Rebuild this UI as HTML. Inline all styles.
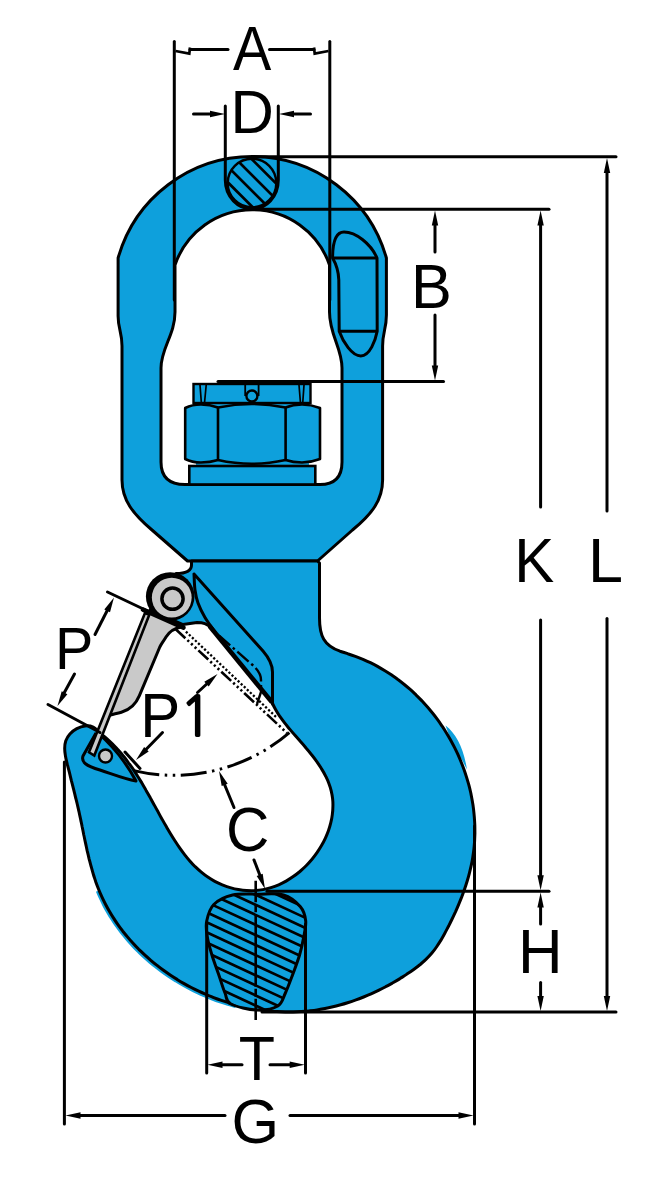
<!DOCTYPE html>
<html><head><meta charset="utf-8"><title>Swivel hook dimensions</title>
<style>html,body{margin:0;padding:0;background:#fff}svg{display:block}</style></head>
<body>
<svg width="664" height="1184" viewBox="0 0 664 1184">
<rect width="664" height="1184" fill="#fff"/>
<path d="M118.1,258 A139.4,139.4 0 0 1 386.4,258 L386.4,315 C386.4,329 382.6,332 382.6,346 L382.6,480 C382.6,500 372,514 352.5,530 L317.5,561 L187.5,561 L152,530 C133,514 122,500 122,480 L122,346 C122,332 118.1,329 118.1,316 Z M175,265 A81.6,81.6 0 0 1 329.5,265 L329.5,312 C329.5,335 342,348 342,368 L342,462 C342,477 335,484.5 320,484.5 L185,484.5 C169,484.5 161,477 161,462 L161,368 C161,348 175,335 175,312 Z" fill="#0ea0dc" fill-rule="evenodd" stroke="#000" stroke-width="3.0" stroke-linejoin="round"/>
<path d="M332.6,258 C332.6,243 335,232 344,232 C356,232 371,244 377,258 L377.2,331.3 C375.5,340 370,356 360.8,356 C352,356 343,342 339.2,331.3 L338.8,280 C338.5,270 335.5,263 332.6,258 Z" fill="none" stroke="#000" stroke-width="3.0" stroke-linejoin="round"/>
<path d="M332.6,258 H377 M339.2,331.3 H377.2" fill="none" stroke="#000" stroke-width="3.0"/>
<rect x="196" y="400" width="113" height="68" fill="#0ea0dc"/>
<rect x="189.3" y="466" width="126" height="18.5" fill="#0ea0dc" stroke="#000" stroke-width="2.6"/>
<rect x="193.5" y="384" width="117" height="19" fill="#0ea0dc" stroke="#000" stroke-width="2.4"/>
<path d="M185.2,408 Q192,404.5 201,404.5 Q210,404.5 218,407.5 Q235,404 251.8,404 Q268,404 285.6,407.5 Q293,404.5 302,404.5 Q311,404.5 320,408 V459 Q311,462.5 302,462.5 Q293,462.5 285.6,460 Q268,463.8 251.8,463.8 Q235,463.8 218,460 Q210,462.5 201,462.5 Q192,462.5 185.2,459 Z" fill="#0ea0dc" stroke="#000" stroke-width="2.6" stroke-linejoin="round"/>
<path d="M218,407.5 V460 M285.6,407.5 V460" fill="none" stroke="#000" stroke-width="2.6"/>
<path d="M200,385 L201.3,402 M206.2,385 L204.6,402 M299,385 L300.4,402 M304,385 L302.8,402" fill="none" stroke="#000" stroke-width="1.7"/>
<circle cx="251.9" cy="396" r="5.5" fill="#0ea0dc" stroke="#000" stroke-width="2.4"/>
<path d="M245.2,385 V396 M258.6,385 V396" stroke="#000" stroke-width="1.8"/>
<path d="M235.7,1006.5 C234.4,1006.1 230.5,1005.0 227.9,1004.2 C225.3,1003.4 222.7,1002.6 220.1,1001.7 C217.5,1000.8 215.0,999.9 212.4,998.9 C209.9,997.9 207.3,996.9 204.8,995.8 C202.3,994.7 199.8,993.6 197.4,992.5 C194.9,991.3 192.5,990.1 190.0,988.8 C187.6,987.6 185.2,986.3 182.8,984.9 C180.5,983.6 178.1,982.2 175.8,980.7 C173.5,979.3 171.2,977.8 168.9,976.3 C166.7,974.8 164.4,973.2 162.2,971.6 C160.1,970.1 157.9,968.4 155.8,966.7 C153.6,965.1 151.5,963.3 149.5,961.6 C147.4,959.8 145.4,958.0 143.4,956.2 C141.4,954.4 139.5,952.5 137.5,950.6 C135.6,948.7 133.8,946.8 132.0,944.8 C130.1,942.8 128.3,940.8 126.6,938.7 C124.9,936.7 123.2,934.6 121.5,932.5 C119.9,930.4 118.3,928.2 116.8,926.1 C115.2,923.9 113.7,921.7 112.3,919.4 C110.8,917.2 109.4,914.9 108.1,912.6 C106.7,910.3 105.4,907.9 104.2,905.6 C103.0,903.2 101.8,900.8 100.7,898.4 C99.6,895.9 98.0,892.2 97.5,891.0" fill="none" stroke="#0ea0dc" stroke-width="3.4"/>
<path d="M445.5,725.5 C456.5,734 463.5,748 467,769.5 L462,760 L450,738 Z" fill="#0ea0dc"/>
<path d="M191.5,561 H317.5 L319.5,563 L319.5,618 C319.5,636 324,645.5 340,651.2 C341.3,651.6 345.1,652.8 347.7,653.7 C350.3,654.5 352.9,655.4 355.4,656.3 C358.0,657.3 360.5,658.3 363.0,659.3 C365.5,660.4 367.9,661.5 370.4,662.7 C372.8,663.9 375.2,665.1 377.5,666.4 C379.9,667.7 382.2,669.1 384.5,670.5 C386.8,671.9 389.1,673.3 391.3,674.8 C393.6,676.4 395.8,677.9 397.9,679.5 C400.1,681.1 402.2,682.8 404.3,684.5 C406.4,686.2 408.4,687.9 410.5,689.7 C412.5,691.5 414.4,693.4 416.4,695.3 C418.3,697.1 420.2,699.1 422.1,701.0 C423.9,703.0 425.7,705.0 427.5,707.0 C429.3,709.1 431.0,711.2 432.7,713.3 C434.4,715.4 436.0,717.5 437.6,719.7 C439.2,721.9 440.7,724.1 442.3,726.4 C443.8,728.6 445.2,730.9 446.6,733.2 C448.0,735.5 449.4,737.9 450.7,740.2 C452.0,742.6 453.3,745.0 454.5,747.4 C455.7,749.8 456.9,752.2 458.0,754.7 C459.1,757.2 460.2,759.7 461.2,762.2 C462.2,764.7 463.2,767.2 464.1,769.7 C465.0,772.3 465.8,774.8 466.6,777.4 C467.4,780.0 468.2,782.6 468.9,785.2 C469.6,787.8 470.2,790.4 470.8,793.0 C471.3,795.7 471.8,798.3 472.3,801.0 C472.8,803.6 473.2,806.3 473.5,808.9 C473.8,811.6 474.1,814.3 474.3,816.9 C474.5,819.6 474.7,822.3 474.8,825.0 C474.9,827.7 474.9,830.4 474.9,833.1 C474.8,835.7 474.7,838.4 474.6,841.1 C474.4,843.8 474.2,846.5 473.9,849.2 C473.6,851.8 473.2,854.5 472.8,857.2 C472.4,859.8 471.9,862.5 471.3,865.2 C470.7,867.8 470.1,870.5 469.4,873.1 C468.8,875.7 468.0,878.4 467.2,881.0 C466.4,883.6 465.6,886.2 464.7,888.8 C463.8,891.4 462.9,893.9 461.9,896.5 C460.9,899.0 459.9,901.6 458.8,904.1 C457.8,906.6 456.7,909.1 455.6,911.6 C454.4,914.1 453.3,916.6 452.1,919.0 C450.9,921.5 449.7,923.9 448.5,926.3 C447.2,928.7 446.0,931.1 444.7,933.4 C443.4,935.8 442.1,938.1 440.8,940.4 C439.4,942.6 438.0,944.8 436.5,947.0 C435.0,949.2 433.4,951.3 431.7,953.3 C430.0,955.3 428.2,957.2 426.2,959.1 C424.3,961.0 422.3,962.7 420.2,964.5 C418.1,966.2 415.9,967.9 413.7,969.5 C411.5,971.1 409.2,972.6 406.9,974.1 C404.7,975.7 402.3,977.1 400.0,978.6 C397.7,980.0 395.3,981.4 392.9,982.8 C390.6,984.1 388.2,985.5 385.7,986.7 C383.3,988.0 380.9,989.2 378.5,990.4 C376.0,991.6 373.5,992.8 371.1,993.9 C368.6,995.0 366.1,996.0 363.6,997.0 C361.1,998.0 358.6,999.0 356.0,999.9 C353.5,1000.8 350.9,1001.7 348.4,1002.5 C345.8,1003.3 343.2,1004.1 340.7,1004.8 C338.1,1005.5 335.5,1006.2 332.9,1006.8 C330.3,1007.4 327.6,1008.0 325.0,1008.5 C322.4,1009.0 319.8,1009.5 317.1,1009.9 C314.5,1010.3 311.8,1010.6 309.2,1010.9 C306.5,1011.2 303.9,1011.4 301.2,1011.6 C298.5,1011.8 295.8,1011.9 293.2,1011.9 C290.5,1012.0 287.8,1012.0 285.1,1011.9 C282.4,1011.9 279.7,1011.8 277.0,1011.6 C274.4,1011.5 271.7,1011.2 269.0,1011.0 C266.3,1010.7 263.6,1010.4 260.9,1010.0 C258.3,1009.6 255.6,1009.2 252.9,1008.7 C250.3,1008.2 247.6,1007.7 245.0,1007.1 C242.3,1006.5 239.7,1005.8 237.0,1005.2 C234.4,1004.5 231.8,1003.7 229.2,1002.9 C226.6,1002.1 224.0,1001.3 221.4,1000.4 C218.8,999.5 216.3,998.6 213.7,997.6 C211.2,996.6 208.6,995.6 206.1,994.5 C203.6,993.4 201.1,992.3 198.7,991.2 C196.2,990.0 193.8,988.8 191.3,987.5 C188.9,986.3 186.5,985.0 184.1,983.6 C181.8,982.3 179.4,980.9 177.1,979.4 C174.8,978.0 172.5,976.5 170.2,975.0 C168.0,973.5 165.7,971.9 163.5,970.3 C161.4,968.8 159.2,967.1 157.1,965.4 C154.9,963.8 152.8,962.0 150.8,960.3 C148.7,958.5 146.7,956.7 144.7,954.9 C142.7,953.1 140.8,951.2 138.8,949.3 C136.9,947.4 135.1,945.5 133.3,943.5 C131.4,941.5 129.6,939.5 127.9,937.4 C126.2,935.4 124.5,933.3 122.8,931.2 C121.2,929.1 119.6,926.9 118.1,924.8 C116.5,922.6 115.0,920.4 113.6,918.1 C112.1,915.9 110.7,913.6 109.4,911.3 C108.0,909.0 106.7,906.6 105.5,904.3 C104.3,901.9 103.1,899.5 102.0,897.1 C100.9,894.6 99.8,892.2 98.8,889.7 C97.8,887.2 96.8,884.7 95.9,882.2 C95.1,879.6 94.2,877.1 93.4,874.5 C92.6,871.9 91.9,869.3 91.2,866.7 C90.4,864.1 89.8,861.5 89.1,858.8 C88.5,856.2 87.9,853.6 87.2,850.9 C86.6,848.3 86.1,845.6 85.5,842.9 C84.9,840.3 84.4,837.6 83.8,835.0 C83.3,832.3 82.8,829.7 82.2,827.0 C81.7,824.4 81.1,821.7 80.6,819.1 C80.0,816.5 79.4,813.9 78.9,811.3 C78.3,808.7 77.7,806.1 77.1,803.5 C76.5,800.9 75.8,798.4 75.2,795.8 C74.6,793.2 73.9,790.6 73.3,788.1 C72.7,785.5 72.0,782.9 71.3,780.3 C70.7,777.7 70.0,775.0 69.4,772.4 C68.7,769.7 68.0,767.1 67.3,764.4 C66.7,761.7 65.9,759.0 65.5,756.3 C65.1,753.6 64.6,750.9 64.7,748.3 C64.7,745.7 65.0,743.2 65.8,740.8 C66.7,738.4 68.1,736.0 69.9,734.0 C71.8,732.0 74.3,730.0 76.8,728.7 C79.3,727.4 82.2,726.3 85.0,726.0 C87.7,725.7 90.7,725.9 93.2,727.0 C95.7,728.2 98.9,732.0 100.0,733.0 C101.1,733.9 104.4,736.5 106.5,738.3 C108.6,740.2 110.6,742.1 112.6,744.0 C114.6,746.0 116.4,748.0 118.3,750.0 C120.1,752.1 121.9,754.1 123.6,756.3 C125.3,758.4 126.9,760.6 128.5,762.8 C130.2,765.0 131.7,767.2 133.3,769.4 C134.8,771.7 136.3,774.0 137.7,776.3 C139.2,778.6 140.6,781.0 142.0,783.3 C143.4,785.7 144.8,788.0 146.1,790.4 C147.5,792.8 148.8,795.2 150.2,797.6 C151.5,800.0 152.8,802.5 154.2,804.9 C155.5,807.3 156.8,809.7 158.2,812.1 C159.5,814.6 160.8,817.0 162.2,819.4 C163.5,821.8 164.9,824.2 166.3,826.6 C167.7,829.0 169.1,831.4 170.5,833.8 C171.9,836.1 173.4,838.5 174.9,840.8 C176.4,843.1 177.9,845.4 179.5,847.7 C181.1,850.0 182.7,852.2 184.4,854.4 C186.1,856.6 187.8,858.7 189.6,860.7 C191.4,862.8 193.3,864.8 195.2,866.7 C197.2,868.6 199.2,870.5 201.3,872.2 C203.3,873.9 205.5,875.6 207.8,877.1 C210.0,878.6 212.4,880.1 214.8,881.4 C217.2,882.7 219.8,883.9 222.3,884.9 C224.9,885.9 227.5,886.9 230.2,887.6 C232.9,888.4 235.6,889.1 238.3,889.5 C241.1,890.0 243.8,890.4 246.6,890.5 C249.3,890.7 252.1,890.7 254.8,890.6 C257.6,890.4 260.3,890.1 263.0,889.6 C265.7,889.1 268.3,888.5 270.9,887.6 C273.6,886.8 276.1,885.9 278.7,884.8 C281.2,883.7 283.7,882.5 286.1,881.1 C288.5,879.7 290.9,878.2 293.2,876.6 C295.5,875.0 297.7,873.3 299.9,871.5 C302.0,869.7 304.1,867.8 306.1,865.8 C308.1,863.8 310.0,861.6 311.8,859.5 C313.7,857.3 315.4,855.0 317.0,852.7 C318.6,850.4 320.1,848.0 321.5,845.6 C322.9,843.2 324.2,840.7 325.4,838.1 C326.5,835.6 327.6,833.0 328.5,830.4 C329.4,827.8 330.2,825.2 330.8,822.6 C331.5,819.9 332.0,817.3 332.3,814.6 C332.7,811.9 332.9,809.3 332.9,806.6 C333.0,804.0 332.9,801.3 332.6,798.7 C332.3,796.1 331.8,793.4 331.2,790.9 C330.6,788.3 329.8,785.8 328.8,783.2 C327.9,780.7 326.7,778.3 325.5,775.8 C324.3,773.4 322.9,771.0 321.4,768.6 C320.0,766.2 318.4,763.9 316.8,761.6 C315.1,759.3 313.4,757.0 311.6,754.8 C309.9,752.5 308.1,750.3 306.2,748.2 C304.4,746.0 302.6,743.9 300.7,741.8 C298.9,739.6 297.0,737.6 295.2,735.5 C293.4,733.5 291.6,731.5 289.9,729.4 C288.2,727.3 286.4,725.3 284.8,723.2 C283.2,721.1 281.6,718.9 280.0,716.7 C278.5,714.4 277.1,712.2 275.7,709.7 C274.3,707.3 272.4,703.3 271.8,702.0 L212,629 C207,623.5 203,622.5 197,622.5 L183,624.5 L150,610 L176,573.5 C185,573.5 191.5,571.5 191.5,565 Z" fill="#0ea0dc" stroke="#000" stroke-width="3.0" stroke-linejoin="round"/>
<path d="M194,574 L263,651 C269,658 272.5,664 272.5,672 L272.5,704 M194.0,574.0 C194.2,576.7 194.3,585.2 195.0,590.0 C195.7,594.8 196.3,598.4 198.0,603.0 C199.7,607.6 202.2,612.7 205.0,617.5 C207.8,622.3 213.3,629.6 215.0,632.0" fill="none" stroke="#000" stroke-width="3.0" stroke-linecap="round"/>
<path d="M209.5,626 L272,702.3" stroke="#000" stroke-width="4.6"/>
<path d="M96,733 L83,756 C81,762 86,766 100,770 C115,775 125,779 136,781 C128,766 115,748 98,733" fill="none" stroke="#000" stroke-width="3.0" stroke-linejoin="round"/>
<circle cx="105.5" cy="756" r="6.5" fill="#c9c9c9" stroke="#000" stroke-width="2.4"/>
<circle cx="170.2" cy="596.5" r="24.3" fill="#000"/>
<path d="M146,611 L104.8,723 " fill="none"/>
<path d="M183,626.5 C175,628 169.5,631 166,637 C163,642 161.5,643.5 159.8,647 L139.4,695.7 C136,704 131,709.5 121.4,712.3 C114,714.3 110,714.5 107.5,716.5 L104.8,723 L146,611 Z" fill="#c9c9c9"/>
<circle cx="171.75" cy="597.6" r="19.9" fill="#c9c9c9"/>
<path d="M183,626.5 C175,628 169.5,631 166,637 C163,642 161.5,643.5 159.8,647 L139.4,695.7 C136,704 131,709.5 121.4,712.3 C114,714.3 110,714.5 107.5,716.5 L104.8,723" fill="none" stroke="#000" stroke-width="3.0" stroke-linejoin="round" stroke-linecap="round"/>
<path d="M145,613 L89,752.3 L94.3,755.5 L149.3,614.8 Z" fill="#c9c9c9" stroke="#000" stroke-width="2.6" stroke-linejoin="miter"/>
<circle cx="172.5" cy="598.7" r="10.6" fill="#c9c9c9" stroke="#000" stroke-width="3.5"/>
<path d="M143,609.6 L183.5,627.6" stroke="#000" stroke-width="4.6" stroke-linecap="round"/>
<path d="M133.6,770.6 A177.3,177.3 0 0 0 289.4,732.6" fill="none" stroke="#000" stroke-width="3.0" stroke-dasharray="26,5.5,2.5,5.5,2.5,5.5"/>
<path d="M185.9,631.6 L276.9,717.7" fill="none" stroke="#000" stroke-width="2.3" stroke-dasharray="2.2,2"/>
<path d="M175.5,629 L287,733" fill="none" stroke="#000" stroke-width="2.6" stroke-dasharray="13.5,2.8,2.2,2.8,2.2,2.8,2.2,2.8"/>
<path d="M218.9,635.5 L252,664.5 C258,670 261,674 261,680 L261,692 L257,704" fill="none" stroke="#000" stroke-width="2.4" stroke-dasharray="15,3.5,2.5,3.5"/>
<defs><clipPath id="c1"><circle cx="252" cy="183" r="24.3"/></clipPath></defs>
<circle cx="252" cy="183" r="24.3" fill="#0ea0dc"/>
<g clip-path="url(#c1)" stroke="#000" stroke-width="2.7"><line x1="220" y1="96.0" x2="285" y2="161.0"/><line x1="220" y1="111.7" x2="285" y2="176.7"/><line x1="220" y1="127.4" x2="285" y2="192.4"/><line x1="220" y1="143.1" x2="285" y2="208.1"/><line x1="220" y1="158.8" x2="285" y2="223.8"/><line x1="220" y1="174.5" x2="285" y2="239.5"/><line x1="220" y1="190.2" x2="285" y2="255.2"/></g>
<circle cx="252" cy="183" r="24.3" fill="none" stroke="#000" stroke-width="2.4"/>
<path d="M225.3,106 V180 C225.3,197 238,209 252,209 C266,209 278.3,197 278.3,180 V106" fill="none" stroke="#000" stroke-width="3.0" stroke-linecap="round"/>
<defs><clipPath id="c2"><path d="M232.6,895.0 C240.0,893.3 249.5,894.2 258.0,894.2 C266.5,894.2 276.4,892.9 283.5,895.0 C290.6,897.1 296.7,902.5 300.4,906.8 C304.1,911.1 305.2,915.8 305.7,921.0 C306.2,926.2 304.5,932.3 303.5,938.0 C302.5,943.7 301.3,949.3 299.5,955.3 C297.7,961.3 295.2,967.7 292.9,974.0 C290.5,980.3 287.9,987.7 285.4,993.0 C282.9,998.3 282.5,1003.2 277.8,1006.0 C273.1,1008.8 264.8,1010.3 257.0,1010.0 C249.2,1009.7 236.1,1006.8 230.8,1004.0 C225.5,1001.2 227.1,998.0 225.0,993.0 C222.9,988.0 220.7,980.3 218.5,974.0 C216.3,967.7 213.9,961.5 212.0,955.3 C210.1,949.0 208.1,942.2 207.2,936.5 C206.3,930.8 205.6,926.3 206.7,921.0 C207.8,915.7 209.5,908.8 213.8,904.5 C218.1,900.2 225.2,896.7 232.6,895.0 Z"/></clipPath></defs>
<path d="M232.6,895.0 C240.0,893.3 249.5,894.2 258.0,894.2 C266.5,894.2 276.4,892.9 283.5,895.0 C290.6,897.1 296.7,902.5 300.4,906.8 C304.1,911.1 305.2,915.8 305.7,921.0 C306.2,926.2 304.5,932.3 303.5,938.0 C302.5,943.7 301.3,949.3 299.5,955.3 C297.7,961.3 295.2,967.7 292.9,974.0 C290.5,980.3 287.9,987.7 285.4,993.0 C282.9,998.3 282.5,1003.2 277.8,1006.0 C273.1,1008.8 264.8,1010.3 257.0,1010.0 C249.2,1009.7 236.1,1006.8 230.8,1004.0 C225.5,1001.2 227.1,998.0 225.0,993.0 C222.9,988.0 220.7,980.3 218.5,974.0 C216.3,967.7 213.9,961.5 212.0,955.3 C210.1,949.0 208.1,942.2 207.2,936.5 C206.3,930.8 205.6,926.3 206.7,921.0 C207.8,915.7 209.5,908.8 213.8,904.5 C218.1,900.2 225.2,896.7 232.6,895.0 Z" fill="#0ea0dc"/>
<g clip-path="url(#c2)" stroke="#000" stroke-width="2.7"><line x1="200" y1="838.7" x2="312" y2="890.7"/><line x1="200" y1="848.8" x2="312" y2="900.7"/><line x1="200" y1="858.9" x2="312" y2="910.8"/><line x1="200" y1="868.9" x2="312" y2="920.9"/><line x1="200" y1="879.0" x2="312" y2="931.0"/><line x1="200" y1="889.1" x2="312" y2="941.0"/><line x1="200" y1="899.1" x2="312" y2="951.1"/><line x1="200" y1="909.2" x2="312" y2="961.2"/><line x1="200" y1="919.3" x2="312" y2="971.2"/><line x1="200" y1="929.3" x2="312" y2="981.3"/><line x1="200" y1="939.4" x2="312" y2="991.4"/><line x1="200" y1="949.5" x2="312" y2="1001.4"/><line x1="200" y1="959.6" x2="312" y2="1011.5"/><line x1="200" y1="969.6" x2="312" y2="1021.6"/><line x1="200" y1="979.7" x2="312" y2="1031.7"/><line x1="200" y1="989.8" x2="312" y2="1041.7"/><line x1="200" y1="999.8" x2="312" y2="1051.8"/><line x1="200" y1="1009.9" x2="312" y2="1061.9"/></g>
<path d="M232.6,895.0 C240.0,893.3 249.5,894.2 258.0,894.2 C266.5,894.2 276.4,892.9 283.5,895.0 C290.6,897.1 296.7,902.5 300.4,906.8 C304.1,911.1 305.2,915.8 305.7,921.0 C306.2,926.2 304.5,932.3 303.5,938.0 C302.5,943.7 301.3,949.3 299.5,955.3 C297.7,961.3 295.2,967.7 292.9,974.0 C290.5,980.3 287.9,987.7 285.4,993.0 C282.9,998.3 282.5,1003.2 277.8,1006.0 C273.1,1008.8 264.8,1010.3 257.0,1010.0 C249.2,1009.7 236.1,1006.8 230.8,1004.0 C225.5,1001.2 227.1,998.0 225.0,993.0 C222.9,988.0 220.7,980.3 218.5,974.0 C216.3,967.7 213.9,961.5 212.0,955.3 C210.1,949.0 208.1,942.2 207.2,936.5 C206.3,930.8 205.6,926.3 206.7,921.0 C207.8,915.7 209.5,908.8 213.8,904.5 C218.1,900.2 225.2,896.7 232.6,895.0 Z" fill="none" stroke="#000" stroke-width="3.0"/>
<path d="M255.7,880.8 V1020" stroke="#000" stroke-width="2.6" stroke-dasharray="21.5,2,8,2,72.5,2,8,2,22"/>
<line x1="174.3" y1="41.5" x2="174.3" y2="300" stroke="#000" stroke-width="3.0" stroke-linecap="round"/>
<line x1="329.8" y1="41.5" x2="329.8" y2="300" stroke="#000" stroke-width="3.0" stroke-linecap="round"/>
<line x1="190" y1="49.4" x2="228" y2="49.4" stroke="#000" stroke-width="3.0" stroke-linecap="round"/>
<line x1="269.5" y1="49.4" x2="314" y2="49.4" stroke="#000" stroke-width="3.0" stroke-linecap="round"/>
<path d="M175.5,51 L189.3,53.6 L190,47.5 M328.5,51 L314.7,53.6 L314,47.5" fill="none" stroke="#000" stroke-width="2.7"/>
<line x1="193.5" y1="114" x2="215" y2="114" stroke="#000" stroke-width="3.0" stroke-linecap="round"/>
<polygon points="225.0,114.0 210.0,117.2 210.0,110.8" fill="#000"/>
<line x1="289" y1="114" x2="310.5" y2="114" stroke="#000" stroke-width="3.0" stroke-linecap="round"/>
<polygon points="279.0,114.0 294.0,110.8 294.0,117.2" fill="#000"/>
<line x1="255" y1="156.7" x2="616" y2="156.7" stroke="#000" stroke-width="3.0" stroke-linecap="round"/>
<line x1="262" y1="209.3" x2="549" y2="209.3" stroke="#000" stroke-width="3.0" stroke-linecap="round"/>
<line x1="218" y1="381.5" x2="443.5" y2="381.5" stroke="#000" stroke-width="3.0" stroke-linecap="round"/>
<line x1="267" y1="891.3" x2="549" y2="891.3" stroke="#000" stroke-width="3.0" stroke-linecap="round"/>
<line x1="262" y1="1012" x2="616" y2="1012" stroke="#000" stroke-width="3.0" stroke-linecap="round"/>
<line x1="435" y1="222" x2="435" y2="252" stroke="#000" stroke-width="3.0" stroke-linecap="round"/>
<polygon points="435.0,210.5 438.2,225.5 431.8,225.5" fill="#000"/>
<line x1="435" y1="315" x2="435" y2="368" stroke="#000" stroke-width="3.0" stroke-linecap="round"/>
<polygon points="435.0,380.5 431.8,365.5 438.2,365.5" fill="#000"/>
<line x1="540.6" y1="222" x2="540.6" y2="507" stroke="#000" stroke-width="3.0" stroke-linecap="round"/>
<polygon points="540.6,210.5 543.8,225.5 537.4,225.5" fill="#000"/>
<line x1="540.6" y1="620" x2="540.6" y2="878" stroke="#000" stroke-width="3.0" stroke-linecap="round"/>
<polygon points="540.6,890.3 537.4,875.3 543.8,875.3" fill="#000"/>
<line x1="607" y1="170" x2="607" y2="511" stroke="#000" stroke-width="3.0" stroke-linecap="round"/>
<polygon points="607.0,158.0 610.2,173.0 603.8,173.0" fill="#000"/>
<line x1="607" y1="618.5" x2="607" y2="999" stroke="#000" stroke-width="3.0" stroke-linecap="round"/>
<polygon points="607.0,1011.0 603.8,996.0 610.2,996.0" fill="#000"/>
<line x1="540.6" y1="904" x2="540.6" y2="924" stroke="#000" stroke-width="3.0" stroke-linecap="round"/>
<polygon points="540.6,892.5 543.8,907.5 537.4,907.5" fill="#000"/>
<line x1="540.6" y1="982.5" x2="540.6" y2="999" stroke="#000" stroke-width="3.0" stroke-linecap="round"/>
<polygon points="540.6,1011.0 537.4,996.0 543.8,996.0" fill="#000"/>
<line x1="206.7" y1="924" x2="206.7" y2="1073" stroke="#000" stroke-width="3.0" stroke-linecap="round"/>
<line x1="305.5" y1="924" x2="305.5" y2="1073" stroke="#000" stroke-width="3.0" stroke-linecap="round"/>
<line x1="218" y1="1064.7" x2="242" y2="1064.7" stroke="#000" stroke-width="3.0" stroke-linecap="round"/>
<polygon points="207.5,1064.7 222.5,1061.5 222.5,1067.9" fill="#000"/>
<line x1="270" y1="1064.7" x2="294" y2="1064.7" stroke="#000" stroke-width="3.0" stroke-linecap="round"/>
<polygon points="304.7,1064.7 289.7,1067.9 289.7,1061.5" fill="#000"/>
<line x1="64.4" y1="762" x2="64.4" y2="1124" stroke="#000" stroke-width="3.0" stroke-linecap="round"/>
<line x1="474.5" y1="826" x2="474.5" y2="1124" stroke="#000" stroke-width="3.0" stroke-linecap="round"/>
<line x1="78" y1="1115.5" x2="225" y2="1115.5" stroke="#000" stroke-width="3.0" stroke-linecap="round"/>
<polygon points="65.5,1115.5 80.5,1112.3 80.5,1118.7" fill="#000"/>
<line x1="290" y1="1115.5" x2="461" y2="1115.5" stroke="#000" stroke-width="3.0" stroke-linecap="round"/>
<polygon points="473.5,1115.5 458.5,1118.7 458.5,1112.3" fill="#000"/>
<line x1="107.5" y1="592" x2="176" y2="624.5" stroke="#000" stroke-width="3.0" stroke-linecap="round"/>
<line x1="48" y1="704.5" x2="100" y2="732.5" stroke="#000" stroke-width="3.0" stroke-linecap="round"/>
<line x1="95" y1="634.5" x2="108.5" y2="608" stroke="#000" stroke-width="3.0" stroke-linecap="round"/>
<polygon points="114.0,597.5 110.0,612.3 104.3,609.4" fill="#000"/>
<line x1="74.5" y1="674" x2="63" y2="695" stroke="#000" stroke-width="3.0" stroke-linecap="round"/>
<polygon points="57.5,706.0 61.7,691.3 67.4,694.3" fill="#000"/>
<line x1="197.5" y1="692.5" x2="210" y2="681" stroke="#000" stroke-width="3.0" stroke-linecap="round"/>
<polygon points="217.5,674.0 208.7,686.5 204.3,681.8" fill="#000"/>
<line x1="162.5" y1="732.5" x2="144" y2="751.5" stroke="#000" stroke-width="3.0" stroke-linecap="round"/>
<polygon points="136.0,760.0 144.1,747.0 148.7,751.4" fill="#000"/>
<line x1="125" y1="752" x2="140" y2="768.5" stroke="#000" stroke-width="3.0" stroke-linecap="round"/>
<line x1="234" y1="807.5" x2="223.5" y2="782" stroke="#000" stroke-width="3.0" stroke-linecap="round"/>
<polygon points="219.0,771.0 227.7,783.7 221.7,786.1" fill="#000"/>
<line x1="254" y1="860" x2="261" y2="878" stroke="#000" stroke-width="3.0" stroke-linecap="round"/>
<polygon points="265.0,889.0 256.7,876.1 262.7,873.8" fill="#000"/>
<g font-family="'Liberation Sans', Arial, Helvetica, sans-serif" fill="#000">
<text transform="translate(233.00,69.5) scale(0.957,1.06)" font-size="60">A</text>
<text transform="translate(230.40,132.8) scale(1.0,1.03)" font-size="60">D</text>
<text transform="translate(411.10,308) scale(1.02,1.043)" font-size="60">B</text>
<text transform="translate(514.30,582.4) scale(1.0,1.043)" font-size="60">K</text>
<text transform="translate(588.06,582.4) scale(1.05,1.043)" font-size="60">L</text>
<text transform="translate(518.06,973) scale(1.03,1.043)" font-size="60">H</text>
<text transform="translate(238.81,1080) scale(0.99,1.05)" font-size="60">T</text>
<text transform="translate(231.44,1143.3) scale(1.02,1.06)" font-size="60">G</text>
<text transform="translate(55.00,669.3) scale(1.0,1.03)" font-size="57.5">P</text>
<text transform="translate(140.2,737) scale(1,1.043)" font-size="60">P<tspan font-family="NanumGothic, 'Liberation Sans', sans-serif" font-size="53.5" x="39.6" y="-0.9" stroke="#000" stroke-width="1.8">1</tspan></text>
<text transform="translate(226.00,851) scale(1.0,1.06)" font-size="60">C</text>
</g>
</svg>
</body></html>
